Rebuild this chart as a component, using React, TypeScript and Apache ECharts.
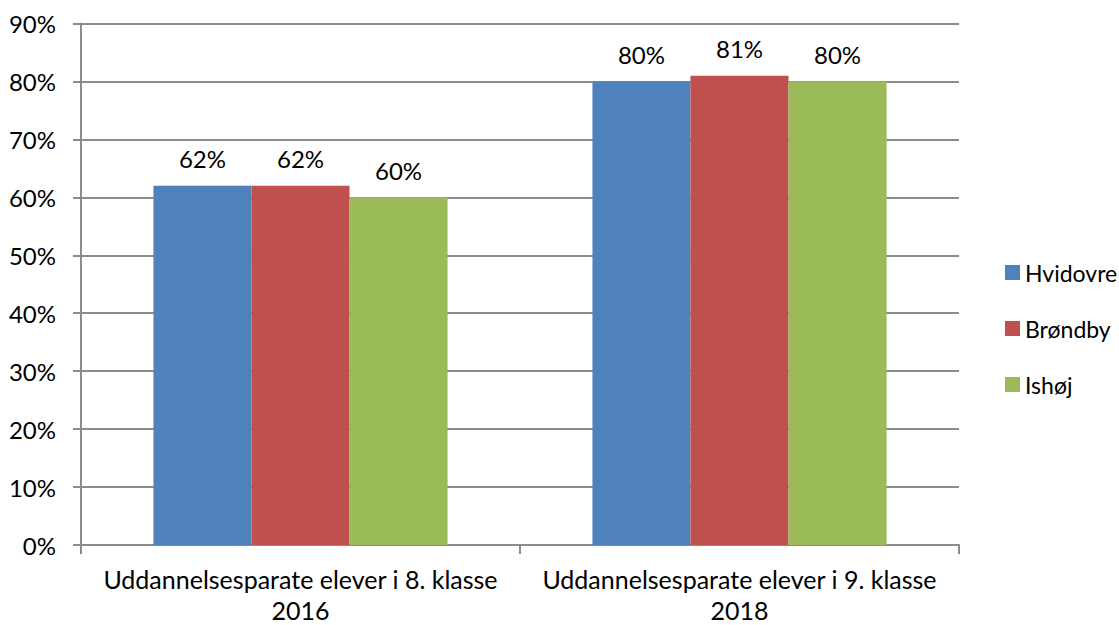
import React, { useEffect, useRef } from "react";
import * as echarts from "echarts";

const categories = [
  "Uddannelsesparate elever i 8. klasse\n2016",
  "Uddannelsesparate elever i 9. klasse\n2018",
];
const seriesNames = ["Hvidovre", "Brøndby", "Ishøj"];
const hvidovre = [62, 80];
const brondby = [62, 81];
const ishoj = [60, 80];
const colors = ["#4F81BD", "#C0504D", "#9BBB59"];

const FONT = "Lato, 'Noto Sans', sans-serif";

export default function App() {
  const ref = useRef<HTMLDivElement>(null);
  useEffect(() => {
    if (!ref.current) return;
    const chart = echarts.init(ref.current, undefined, { renderer: "svg" });
    const values = [hvidovre, brondby, ishoj];
    chart.setOption({
      animation: false,
      textStyle: { fontFamily: FONT },
      grid: { left: 81, right: 160, top: 23.5, bottom: 77, containLabel: false },
      legend: {
        orient: "vertical",
        left: 1000,
        top: 256,
        itemWidth: 15,
        itemHeight: 15,
        itemGap: 33,
        icon: "rect",
        textStyle: { fontFamily: FONT, fontSize: 23, color: "#000" },
        data: seriesNames,
      },
      xAxis: {
        type: "category",
        data: categories,
        axisLine: { lineStyle: { color: "#8C8C8C", width: 2 } },
        axisTick: { show: true, length: 9, lineStyle: { color: "#8C8C8C", width: 2 } },
        axisLabel: {
          interval: 0,
          hideOverlap: false,
          color: "#000",
          fontFamily: FONT,
          fontSize: 25,
          lineHeight: 31,
          margin: 18,
        },
      },
      yAxis: {
        type: "value",
        min: 0,
        max: 90,
        interval: 10,
        axisLine: { show: true, lineStyle: { color: "#8C8C8C", width: 2 } },
        axisTick: { show: true, length: 8, lineStyle: { color: "#8C8C8C", width: 2 } },
        splitLine: { lineStyle: { color: "#8C8C8C", width: 2 } },
        axisLabel: {
          formatter: "{value}%",
          color: "#000",
          fontFamily: FONT,
          fontSize: 24,
          margin: 25,
        },
      },
      series: seriesNames.map((name, i) => ({
        name,
        type: "bar",
        data: values[i],
        barGap: "0%",
        barCategoryGap: "33%",
        itemStyle: { color: colors[i] },
        label: {
          show: true,
          position: "top",
          distance: 15,
          formatter: "{c}%",
          color: "#000",
          fontFamily: FONT,
          fontSize: 24,
        },
      })),
    });
    return () => chart.dispose();
  }, []);
  return (
    <div
      ref={ref}
      style={{ position: "fixed", left: 0, top: 0, width: 1119, height: 625, background: "#fff" }}
    />
  );
}
